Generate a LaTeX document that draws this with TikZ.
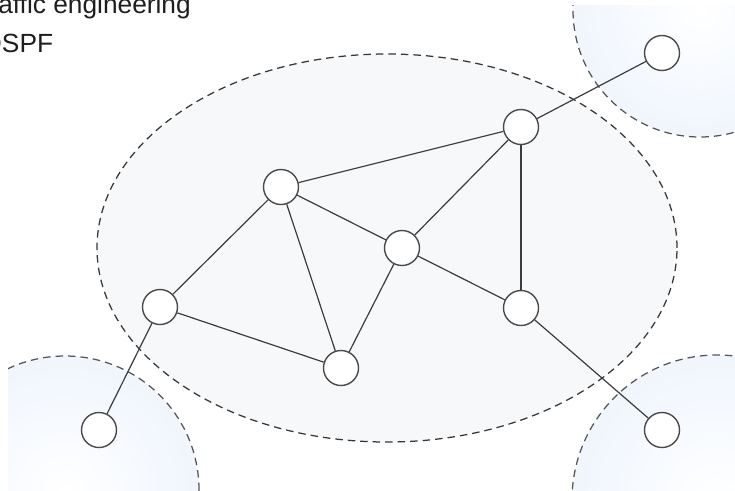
\documentclass[tikz,border=0pt]{standalone}
\usepackage{fontspec}
\setmainfont{Liberation Sans}
\definecolor{areafill}{HTML}{F7F8FA}
\definecolor{areaborder}{HTML}{363636}
\definecolor{cornerblue}{HTML}{E4EEFC}
\definecolor{cornerborder}{HTML}{555555}
\definecolor{nodeborder}{HTML}{4A4A4A}
\definecolor{linkcolor}{HTML}{3C3C3C}
\definecolor{textcolor}{HTML}{1E1E1E}
\pgfdeclareradialshading{cornerglow}{\pgfpoint{0bp}{0bp}}{color(0bp)=(white); color(20bp)=(white!55!cornerblue); color(50bp)=(cornerblue)}
\tikzset{
  router/.style={circle, draw=nodeborder, line width=1.4pt, fill=white, minimum size=35pt, inner sep=0pt},
  link/.style={draw=linkcolor, line width=1.2pt},
  arealine/.style={draw=areaborder, line width=1.25pt, dash pattern=on 7.5pt off 5pt},
  cornerline/.style={draw=cornerborder, line width=1.25pt, dash pattern=on 7.5pt off 5pt},
  corner/.style={shading=cornerglow},
  caption/.style={anchor=base west, inner sep=0pt, text=textcolor, font=\fontsize{26.3pt}{30pt}\selectfont}
}
\begin{document}
\begin{tikzpicture}[x=1pt, y=-1pt]
  \useasboundingbox (0,0) rectangle (735,490);
  \clip (0,0) rectangle (735,490);

  % central routing domain
  \path[fill=areafill, arealine] (387,248) ellipse [x radius=290pt, y radius=194pt];

  % neighbouring areas in the corners
  \begin{scope}
    \clip (8,5) rectangle (735,490);
    \path[corner] (700,10) circle (127pt);
    \path[corner] (65,490) circle (134pt);
    \path[corner] (717,500) circle (145pt);
    \path[cornerline] (700,10) circle (127pt);
    \path[cornerline] (65,490) circle (134pt);
    \path[cornerline] (717,500) circle (145pt);
  \end{scope}

  % headings
  \node[caption] (t1) at (-25.8,13) {Traffic engineering};
  \node[caption] (t2) at (-18.7,52) {OSPF};

  % routers
  \node[router] (ext1) at (662,53) {};
  \node[router] (top)  at (521,127) {};
  \node[router] (nw)   at (281,187) {};
  \node[router] (mid)  at (402,248) {};
  \node[router] (east) at (521,308) {};
  \node[router] (west) at (160,307) {};
  \node[router] (sth)  at (341,368) {};
  \node[router] (ext2) at (99,430) {};
  \node[router] (ext3) at (662,430) {};

  % links
  \draw[link] (ext1) -- (top);
  \draw[link] (top) -- (nw);
  \draw[link] (top) -- (mid);
  \draw[link] (top) -- (east);
  \draw[link] (nw) -- (mid);
  \draw[link] (nw) -- (west);
  \draw[link] (nw) -- (sth);
  \draw[link] (mid) -- (sth);
  \draw[link] (mid) -- (east);
  \draw[link] (west) -- (sth);
  \draw[link] (west) -- (ext2);
  \draw[link] (east) -- (ext3);
\end{tikzpicture}
\end{document}
